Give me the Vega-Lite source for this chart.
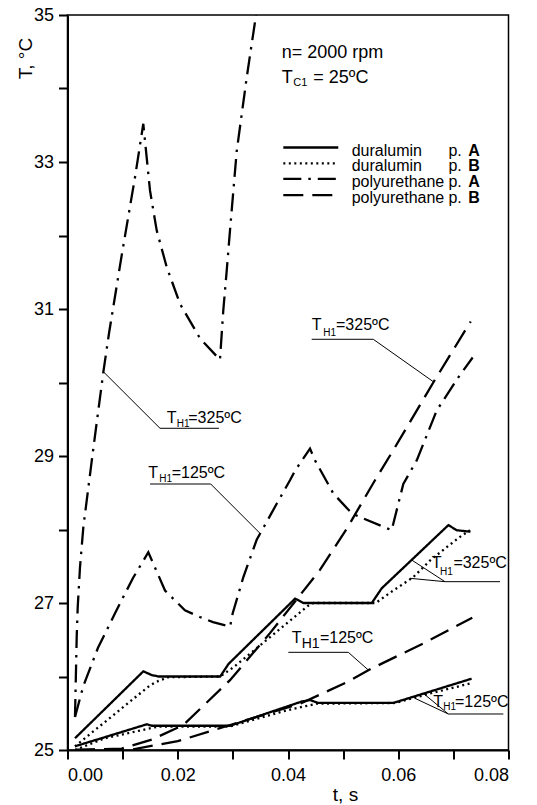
{
  "$schema": "https://vega.github.io/schema/vega-lite/v6.json",
  "width": 441,
  "height": 735,
  "autosize": {"type": "none"},
  "padding": {"left": 67.5, "top": 15, "right": 28.5, "bottom": 55},
  "background": "white",
  "config": {
    "font": "Liberation Sans",
    "view": {"stroke": "black", "strokeWidth": 1.5},
    "axis": {
      "grid": false,
      "domainColor": "black",
      "domainWidth": 2,
      "tickColor": "black",
      "tickWidth": 2,
      "tickSize": 9,
      "labelColor": "black",
      "labelFont": "Liberation Sans",
      "labelFontSize": 18,
      "titleColor": "black",
      "titleFont": "Liberation Sans",
      "titleFontSize": 19,
      "titleFontWeight": "normal"
    },
    "text": {"font": "Liberation Sans", "color": "black"}
  },
  "datasets": {
    "curves": [
      {"curve": "PA325", "series": "polyurethane p.A", "t": 0.00136, "T": 25.45},
      {"curve": "PA325", "series": "polyurethane p.A", "t": 0.00167, "T": 26.54},
      {"curve": "PA325", "series": "polyurethane p.A", "t": 0.00185, "T": 26.94},
      {"curve": "PA325", "series": "polyurethane p.A", "t": 0.00227, "T": 27.49},
      {"curve": "PA325", "series": "polyurethane p.A", "t": 0.00287, "T": 28.03},
      {"curve": "PA325", "series": "polyurethane p.A", "t": 0.00468, "T": 29.10},
      {"curve": "PA325", "series": "polyurethane p.A", "t": 0.0065, "T": 30.14},
      {"curve": "PA325", "series": "polyurethane p.A", "t": 0.00753, "T": 30.67},
      {"curve": "PA325", "series": "polyurethane p.A", "t": 0.00983, "T": 31.73},
      {"curve": "PA325", "series": "polyurethane p.A", "t": 0.01224, "T": 32.79},
      {"curve": "PA325", "series": "polyurethane p.A", "t": 0.01375, "T": 33.52},
      {"curve": "PA325", "series": "polyurethane p.A", "t": 0.01497, "T": 32.61},
      {"curve": "PA325", "series": "polyurethane p.A", "t": 0.01618, "T": 32.07},
      {"curve": "PA325", "series": "polyurethane p.A", "t": 0.018, "T": 31.57},
      {"curve": "PA325", "series": "polyurethane p.A", "t": 0.02041, "T": 31.07},
      {"curve": "PA325", "series": "polyurethane p.A", "t": 0.02404, "T": 30.60},
      {"curve": "PA325", "series": "polyurethane p.A", "t": 0.02766, "T": 30.31},
      {"curve": "PA325", "series": "polyurethane p.A", "t": 0.02826, "T": 30.98},
      {"curve": "PA325", "series": "polyurethane p.A", "t": 0.02888, "T": 31.52},
      {"curve": "PA325", "series": "polyurethane p.A", "t": 0.02948, "T": 32.07},
      {"curve": "PA325", "series": "polyurethane p.A", "t": 0.0307, "T": 33.15},
      {"curve": "PA325", "series": "polyurethane p.A", "t": 0.03251, "T": 34.15},
      {"curve": "PA325", "series": "polyurethane p.A", "t": 0.0342, "T": 35.0},
      {"curve": "PA325", "series": "polyurethane p.A", "t": 0.0352, "T": 35.6},

      {"curve": "PA125", "series": "polyurethane p.A", "t": 0.00136, "T": 25.45},
      {"curve": "PA125", "series": "polyurethane p.A", "t": 0.00287, "T": 25.87},
      {"curve": "PA125", "series": "polyurethane p.A", "t": 0.00553, "T": 26.39},
      {"curve": "PA125", "series": "polyurethane p.A", "t": 0.00862, "T": 26.86},
      {"curve": "PA125", "series": "polyurethane p.A", "t": 0.01188, "T": 27.34},
      {"curve": "PA125", "series": "polyurethane p.A", "t": 0.01466, "T": 27.69},
      {"curve": "PA125", "series": "polyurethane p.A", "t": 0.01769, "T": 27.17},
      {"curve": "PA125", "series": "polyurethane p.A", "t": 0.0213, "T": 26.90},
      {"curve": "PA125", "series": "polyurethane p.A", "t": 0.024, "T": 26.81},
      {"curve": "PA125", "series": "polyurethane p.A", "t": 0.0264, "T": 26.74},
      {"curve": "PA125", "series": "polyurethane p.A", "t": 0.0295, "T": 26.68},
      {"curve": "PA125", "series": "polyurethane p.A", "t": 0.02997, "T": 26.86},
      {"curve": "PA125", "series": "polyurethane p.A", "t": 0.03189, "T": 27.35},
      {"curve": "PA125", "series": "polyurethane p.A", "t": 0.03432, "T": 27.86},
      {"curve": "PA125", "series": "polyurethane p.A", "t": 0.03795, "T": 28.35},
      {"curve": "PA125", "series": "polyurethane p.A", "t": 0.04036, "T": 28.67},
      {"curve": "PA125", "series": "polyurethane p.A", "t": 0.04127, "T": 28.80},
      {"curve": "PA125", "series": "polyurethane p.A", "t": 0.04399, "T": 29.10},
      {"curve": "PA125", "series": "polyurethane p.A", "t": 0.0449, "T": 28.94},
      {"curve": "PA125", "series": "polyurethane p.A", "t": 0.04822, "T": 28.49},
      {"curve": "PA125", "series": "polyurethane p.A", "t": 0.05156, "T": 28.22},
      {"curve": "PA125", "series": "polyurethane p.A", "t": 0.05366, "T": 28.15},
      {"curve": "PA125", "series": "polyurethane p.A", "t": 0.05881, "T": 27.99},
      {"curve": "PA125", "series": "polyurethane p.A", "t": 0.06001, "T": 28.35},
      {"curve": "PA125", "series": "polyurethane p.A", "t": 0.06092, "T": 28.62},
      {"curve": "PA125", "series": "polyurethane p.A", "t": 0.06335, "T": 28.94},
      {"curve": "PA125", "series": "polyurethane p.A", "t": 0.06698, "T": 29.62},
      {"curve": "PA125", "series": "polyurethane p.A", "t": 0.0709, "T": 30.07},
      {"curve": "PA125", "series": "polyurethane p.A", "t": 0.0735, "T": 30.34},

      {"curve": "PB325", "series": "polyurethane p.B", "t": 0.00136, "T": 25.0},
      {"curve": "PB325", "series": "polyurethane p.B", "t": 0.00983, "T": 25.02},
      {"curve": "PB325", "series": "polyurethane p.B", "t": 0.01527, "T": 25.14},
      {"curve": "PB325", "series": "polyurethane p.B", "t": 0.021, "T": 25.34},
      {"curve": "PB325", "series": "polyurethane p.B", "t": 0.02948, "T": 25.95},
      {"curve": "PB325", "series": "polyurethane p.B", "t": 0.03673, "T": 26.59},
      {"curve": "PB325", "series": "polyurethane p.B", "t": 0.0458, "T": 27.45},
      {"curve": "PB325", "series": "polyurethane p.B", "t": 0.05065, "T": 28.01},
      {"curve": "PB325", "series": "polyurethane p.B", "t": 0.05578, "T": 28.67},
      {"curve": "PB325", "series": "polyurethane p.B", "t": 0.0591, "T": 29.08},
      {"curve": "PB325", "series": "polyurethane p.B", "t": 0.06636, "T": 30.0},
      {"curve": "PB325", "series": "polyurethane p.B", "t": 0.07314, "T": 30.83},

      {"curve": "PB125", "series": "polyurethane p.B", "t": 0.00136, "T": 25.0},
      {"curve": "PB125", "series": "polyurethane p.B", "t": 0.0119, "T": 25.01},
      {"curve": "PB125", "series": "polyurethane p.B", "t": 0.02, "T": 25.12},
      {"curve": "PB125", "series": "polyurethane p.B", "t": 0.0295, "T": 25.34},
      {"curve": "PB125", "series": "polyurethane p.B", "t": 0.0422, "T": 25.63},
      {"curve": "PB125", "series": "polyurethane p.B", "t": 0.0509, "T": 25.93},
      {"curve": "PB125", "series": "polyurethane p.B", "t": 0.0552, "T": 26.11},
      {"curve": "PB125", "series": "polyurethane p.B", "t": 0.06455, "T": 26.45},
      {"curve": "PB125", "series": "polyurethane p.B", "t": 0.07343, "T": 26.80},

      {"curve": "DA325", "series": "duralumin p.A", "t": 0.00136, "T": 25.16},
      {"curve": "DA325", "series": "duralumin p.A", "t": 0.01375, "T": 26.07},
      {"curve": "DA325", "series": "duralumin p.A", "t": 0.01527, "T": 26.02},
      {"curve": "DA325", "series": "duralumin p.A", "t": 0.0165, "T": 26.0},
      {"curve": "DA325", "series": "duralumin p.A", "t": 0.0277, "T": 26.0},
      {"curve": "DA325", "series": "duralumin p.A", "t": 0.0292, "T": 26.17},
      {"curve": "DA325", "series": "duralumin p.A", "t": 0.0413, "T": 27.06},
      {"curve": "DA325", "series": "duralumin p.A", "t": 0.0428, "T": 27.0},
      {"curve": "DA325", "series": "duralumin p.A", "t": 0.0552, "T": 27.0},
      {"curve": "DA325", "series": "duralumin p.A", "t": 0.057, "T": 27.2},
      {"curve": "DA325", "series": "duralumin p.A", "t": 0.0691, "T": 28.06},
      {"curve": "DA325", "series": "duralumin p.A", "t": 0.0706, "T": 27.99},
      {"curve": "DA325", "series": "duralumin p.A", "t": 0.0731, "T": 27.97},

      {"curve": "DB325", "series": "duralumin p.B", "t": 0.00136, "T": 25.05},
      {"curve": "DB325", "series": "duralumin p.B", "t": 0.01497, "T": 25.88},
      {"curve": "DB325", "series": "duralumin p.B", "t": 0.0165, "T": 25.94},
      {"curve": "DB325", "series": "duralumin p.B", "t": 0.0183, "T": 25.99},
      {"curve": "DB325", "series": "duralumin p.B", "t": 0.0277, "T": 26.0},
      {"curve": "DB325", "series": "duralumin p.B", "t": 0.0302, "T": 26.13},
      {"curve": "DB325", "series": "duralumin p.B", "t": 0.0436, "T": 26.96},
      {"curve": "DB325", "series": "duralumin p.B", "t": 0.0446, "T": 27.0},
      {"curve": "DB325", "series": "duralumin p.B", "t": 0.0559, "T": 27.0},
      {"curve": "DB325", "series": "duralumin p.B", "t": 0.0591, "T": 27.17},
      {"curve": "DB325", "series": "duralumin p.B", "t": 0.0627, "T": 27.35},
      {"curve": "DB325", "series": "duralumin p.B", "t": 0.0658, "T": 27.58},
      {"curve": "DB325", "series": "duralumin p.B", "t": 0.0688, "T": 27.76},
      {"curve": "DB325", "series": "duralumin p.B", "t": 0.0712, "T": 27.9},
      {"curve": "DB325", "series": "duralumin p.B", "t": 0.073, "T": 27.99},

      {"curve": "DA125", "series": "duralumin p.A", "t": 0.00136, "T": 25.05},
      {"curve": "DA125", "series": "duralumin p.A", "t": 0.0144, "T": 25.35},
      {"curve": "DA125", "series": "duralumin p.A", "t": 0.0153, "T": 25.33},
      {"curve": "DA125", "series": "duralumin p.A", "t": 0.0295, "T": 25.33},
      {"curve": "DA125", "series": "duralumin p.A", "t": 0.0425, "T": 25.66},
      {"curve": "DA125", "series": "duralumin p.A", "t": 0.044, "T": 25.68},
      {"curve": "DA125", "series": "duralumin p.A", "t": 0.0455, "T": 25.64},
      {"curve": "DA125", "series": "duralumin p.A", "t": 0.0591, "T": 25.64},
      {"curve": "DA125", "series": "duralumin p.A", "t": 0.0733, "T": 25.97},

      {"curve": "DB125", "series": "duralumin p.B", "t": 0.00136, "T": 25.0},
      {"curve": "DB125", "series": "duralumin p.B", "t": 0.0068, "T": 25.16},
      {"curve": "DB125", "series": "duralumin p.B", "t": 0.0147, "T": 25.29},
      {"curve": "DB125", "series": "duralumin p.B", "t": 0.0165, "T": 25.32},
      {"curve": "DB125", "series": "duralumin p.B", "t": 0.0295, "T": 25.32},
      {"curve": "DB125", "series": "duralumin p.B", "t": 0.0313, "T": 25.36},
      {"curve": "DB125", "series": "duralumin p.B", "t": 0.0398, "T": 25.54},
      {"curve": "DB125", "series": "duralumin p.B", "t": 0.0452, "T": 25.63},
      {"curve": "DB125", "series": "duralumin p.B", "t": 0.0595, "T": 25.64},
      {"curve": "DB125", "series": "duralumin p.B", "t": 0.0658, "T": 25.77},
      {"curve": "DB125", "series": "duralumin p.B", "t": 0.0733, "T": 25.91}
    ],
    "leaders": [
      {"id": "L1", "k": 1, "t": 0.0065, "T": 30.147},
      {"id": "L1", "k": 2, "t": 0.01678, "T": 29.377},
      {"id": "L1", "k": 3, "t": 0.02748, "T": 29.377},
      {"id": "L2", "k": 1, "t": 0.01497, "T": 28.619},
      {"id": "L2", "k": 2, "t": 0.02598, "T": 28.619},
      {"id": "L2", "k": 3, "t": 0.03492, "T": 27.948},
      {"id": "L3", "k": 1, "t": 0.0443, "T": 30.588},
      {"id": "L3", "k": 2, "t": 0.05547, "T": 30.588},
      {"id": "L3", "k": 3, "t": 0.06636, "T": 30.011},
      {"id": "L4", "k": 1, "t": 0.04006, "T": 26.329},
      {"id": "L4", "k": 2, "t": 0.05094, "T": 26.329},
      {"id": "L4", "k": 3, "t": 0.05457, "T": 26.088},
      {"id": "L5a", "k": 1, "t": 0.06244, "T": 27.585},
      {"id": "L5a", "k": 2, "t": 0.06848, "T": 27.29},
      {"id": "L5a", "k": 3, "t": 0.07846, "T": 27.29},
      {"id": "L5b", "k": 1, "t": 0.06213, "T": 27.336},
      {"id": "L5b", "k": 2, "t": 0.06848, "T": 27.29},
      {"id": "L6a", "k": 1, "t": 0.06454, "T": 25.771},
      {"id": "L6a", "k": 2, "t": 0.06908, "T": 25.49},
      {"id": "L6a", "k": 3, "t": 0.07906, "T": 25.49},
      {"id": "L6b", "k": 1, "t": 0.06304, "T": 25.703},
      {"id": "L6b", "k": 2, "t": 0.06908, "T": 25.49}
    ],
    "labelMain": [
      {"t": 0.018, "T": 29.445, "text": "T"},
      {"t": 0.02191, "T": 29.445, "text": "=325ºC"},
      {"t": 0.01466, "T": 28.697, "text": "T"},
      {"t": 0.0189, "T": 28.697, "text": "=125ºC"},
      {"t": 0.0443, "T": 30.714, "text": "T"},
      {"t": 0.04871, "T": 30.714, "text": "=325ºC"},
      {"t": 0.04067, "T": 26.452, "text": "T"},
      {"t": 0.0458, "T": 26.452, "text": "=125ºC"},
      {"t": 0.06607, "T": 27.472, "text": "T"},
      {"t": 0.07, "T": 27.472, "text": "=325ºC"},
      {"t": 0.06636, "T": 25.589, "text": "T"},
      {"t": 0.0703, "T": 25.589, "text": "=125ºC"}
    ],
    "labelSub": [
      {"t": 0.01981, "T": 29.399, "text": "H1"},
      {"t": 0.01665, "T": 28.65, "text": "H1"},
      {"t": 0.0464, "T": 30.633, "text": "H1"},
      {"t": 0.06757, "T": 27.381, "text": "H1"},
      {"t": 0.06817, "T": 25.544, "text": "H1"}
    ],
    "labelSubLarge": [
      {"t": 0.04249, "T": 26.384, "text": "H1"}
    ],
    "header": [
      {"t": 0.03886, "T": 34.41, "text": "n= 2000 rpm"},
      {"t": 0.03886, "T": 34.079, "text": "T"},
      {"t": 0.04459, "T": 34.079, "text": "= 25ºC"}
    ],
    "headerSub": [
      {"t": 0.04096, "T": 34.034, "text": "C1"}
    ],
    "legend": [
      {"series": "duralumin p.A", "name": "duralumin", "key": "A", "T": 33.197},
      {"series": "duralumin p.B", "name": "duralumin", "key": "B", "T": 32.98},
      {"series": "polyurethane p.A", "name": "polyurethane", "key": "A", "T": 32.77},
      {"series": "polyurethane p.B", "name": "polyurethane", "key": "B", "T": 32.55}
    ]
  },
  "layer": [
    {
      "data": {"name": "curves"},
      "mark": {"type": "line", "color": "black", "strokeWidth": 2.3, "clip": true, "strokeCap": "butt"},
      "encoding": {
        "x": {
          "field": "t", "type": "quantitative",
          "scale": {"domain": [0, 0.08], "nice": false, "zero": false},
          "axis": {
            "values": [0, 0.01, 0.02, 0.03, 0.04, 0.05, 0.06, 0.07, 0.08],
            "format": ".2f",
            "labelExpr": "round(datum.value * 100) % 2 == 0 ? datum.label : ''",
            "labelPadding": 7,
            "title": "t, s",
            "titleX": 277.5,
            "titleY": 50,
            "titleAlign": "center",
            "titleBaseline": "alphabetic"
          }
        },
        "y": {
          "field": "T", "type": "quantitative",
          "scale": {"domain": [25, 35], "nice": false, "zero": false},
          "axis": {
            "values": [25, 26, 27, 28, 29, 30, 31, 32, 33, 34, 35],
            "format": "d",
            "labelExpr": "datum.value % 2 == 1 ? datum.label : ''",
            "labelPadding": 5,
            "title": "T, °C",
            "titleAngle": -90,
            "titleX": -36,
            "titleY": 43,
            "titleAlign": "center",
            "titleBaseline": "alphabetic"
          }
        },
        "detail": {"field": "curve", "type": "nominal"},
        "strokeDash": {
          "field": "series", "type": "nominal",
          "scale": {
            "domain": ["duralumin p.A", "duralumin p.B", "polyurethane p.A", "polyurethane p.B"],
            "range": [[1, 0], [2, 3.5], [18, 7, 2.5, 7], [20, 9]]
          },
          "legend": null
        }
      }
    },
    {
      "data": {"name": "leaders"},
      "mark": {"type": "line", "color": "black", "strokeWidth": 1},
      "encoding": {
        "x": {"field": "t", "type": "quantitative"},
        "y": {"field": "T", "type": "quantitative"},
        "detail": {"field": "id", "type": "nominal"},
        "order": {"field": "k", "type": "quantitative"}
      }
    },
    {
      "data": {"name": "legend"},
      "mark": {"type": "rule", "color": "black", "strokeWidth": 2.3, "strokeCap": "butt"},
      "encoding": {
        "x": {"datum": 0.03915},
        "x2": {"datum": 0.04912},
        "y": {"field": "T", "type": "quantitative"},
        "strokeDash": {"field": "series", "type": "nominal", "legend": null}
      }
    },
    {
      "data": {"name": "legend"},
      "mark": {"type": "text", "align": "left", "baseline": "alphabetic", "dy": 8, "fontSize": 16},
      "encoding": {
        "x": {"datum": 0.05156},
        "y": {"field": "T", "type": "quantitative"},
        "text": {"field": "name"}
      }
    },
    {
      "data": {"name": "legend"},
      "mark": {"type": "text", "align": "left", "baseline": "alphabetic", "dy": 8, "fontSize": 16},
      "encoding": {
        "x": {"datum": 0.0691},
        "y": {"field": "T", "type": "quantitative"},
        "text": {"value": "p."}
      }
    },
    {
      "data": {"name": "legend"},
      "mark": {"type": "text", "align": "left", "baseline": "alphabetic", "dy": 8, "fontSize": 16, "fontWeight": "bold"},
      "encoding": {
        "x": {"datum": 0.0727},
        "y": {"field": "T", "type": "quantitative"},
        "text": {"field": "key"}
      }
    },
    {
      "data": {"name": "labelMain"},
      "mark": {"type": "text", "align": "left", "baseline": "alphabetic", "fontSize": 16},
      "encoding": {
        "x": {"field": "t", "type": "quantitative"},
        "y": {"field": "T", "type": "quantitative"},
        "text": {"field": "text"}
      }
    },
    {
      "data": {"name": "labelSub"},
      "mark": {"type": "text", "align": "left", "baseline": "alphabetic", "fontSize": 10},
      "encoding": {
        "x": {"field": "t", "type": "quantitative"},
        "y": {"field": "T", "type": "quantitative"},
        "text": {"field": "text"}
      }
    },
    {
      "data": {"name": "labelSubLarge"},
      "mark": {"type": "text", "align": "left", "baseline": "alphabetic", "fontSize": 14},
      "encoding": {
        "x": {"field": "t", "type": "quantitative"},
        "y": {"field": "T", "type": "quantitative"},
        "text": {"field": "text"}
      }
    },
    {
      "data": {"name": "header"},
      "mark": {"type": "text", "align": "left", "baseline": "alphabetic", "fontSize": 18},
      "encoding": {
        "x": {"field": "t", "type": "quantitative"},
        "y": {"field": "T", "type": "quantitative"},
        "text": {"field": "text"}
      }
    },
    {
      "data": {"name": "headerSub"},
      "mark": {"type": "text", "align": "left", "baseline": "alphabetic", "fontSize": 11},
      "encoding": {
        "x": {"field": "t", "type": "quantitative"},
        "y": {"field": "T", "type": "quantitative"},
        "text": {"field": "text"}
      }
    }
  ]
}
